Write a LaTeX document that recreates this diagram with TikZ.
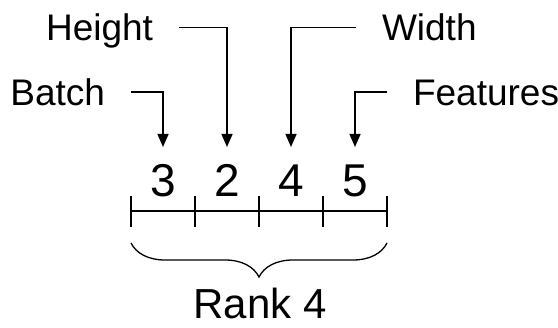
\documentclass[tikz,border=0pt]{standalone}
\usepackage{fontspec}
\setmainfont{Liberation Sans}
\usetikzlibrary{arrows.meta,decorations.pathreplacing,positioning}

\tikzset{
  dimlabel/.style={font=\fontsize{37}{40}\selectfont, text height=27pt, text depth=0pt,
    inner sep=0pt, outer xsep=26pt},
  dimsize/.style={font=\fontsize{46}{50}\selectfont, text height=33pt, text depth=0pt,
    inner sep=0pt, outer ysep=16.5pt},
  pointer/.style={line width=1.4pt, -{Triangle[width=11pt,length=13pt]}},
  rule/.style={line width=1.3pt},
}

\begin{document}
\begin{tikzpicture}[x=1pt,y=-1pt]
  \useasboundingbox (0,0) rectangle (558,328);

  % the four sizes
  \node[dimsize] (Batchsize) at (163,180) {3};
  \node[dimsize] (Heightsize) at (227,180) {2};
  \node[dimsize] (Widthsize) at (291,180) {4};
  \node[dimsize] (Featuresize) at (355,180) {5};

  % names of the dimensions
  \node[dimlabel, anchor=east] (Batch) at (131,92) {Batch};
  \node[dimlabel, anchor=east] (Height) at (179,27.5) {Height};
  \node[dimlabel, anchor=west] (Width) at (356,27.5) {Width};
  \node[dimlabel, anchor=west] (Features) at (387,92) {Features};

  \draw[pointer] (Batch) -| (Batchsize);
  \draw[pointer] (Height) -| (Heightsize);
  \draw[pointer] (Width) -| (Widthsize);
  \draw[pointer] (Features) -| (Featuresize);

  % axis with ticks
  \draw[rule] (131,211) -- (387,211);
  \foreach \x in {131,195,...,387}
    \draw[rule] (\x,196) -- (\x,227);

  % brace and rank
  \draw[rule, decorate, decoration={brace, mirror, amplitude=34pt}] (131,243) -- (387,243);
  \node[font=\fontsize{42}{46}\selectfont, text height=30pt, text depth=0pt, inner sep=0pt]
    (Rank) at (260,303.5) {Rank 4};
\end{tikzpicture}
\end{document}
